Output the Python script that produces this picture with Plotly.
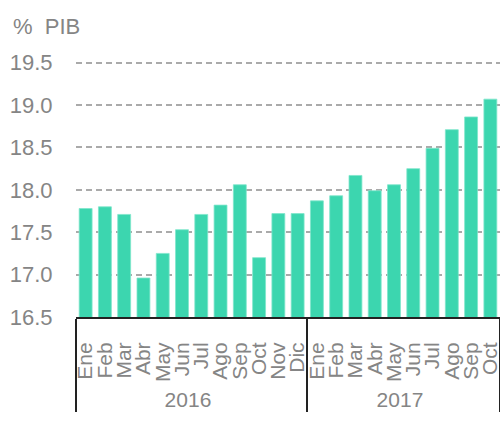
import plotly.graph_objects as go

years = ["2016"] * 12 + ["2017"] * 10
months = ["Ene", "Feb", "Mar", "Abr", "May", "Jun", "Jul", "Ago", "Sep", "Oct", "Nov", "Dic",
          "Ene", "Feb", "Mar", "Abr", "May", "Jun", "Jul", "Ago", "Sep", "Oct"]
values = [17.78, 17.80, 17.71, 16.96, 17.25, 17.53, 17.71, 17.82, 18.06, 17.20, 17.72, 17.72,
          17.87, 17.93, 18.17, 17.99, 18.06, 18.25, 18.49, 18.71, 18.86, 19.07]
y_ticks = [16.5, 17.0, 17.5, 18.0, 18.5, 19.0, 19.5]

gray = "#858585"
font_family = "Liberation Sans, Arial, sans-serif"

W, H = 500, 425

fig = go.Figure(go.Bar(
    x=[years, months],
    y=values,
    marker=dict(color="#3CD6AF", line=dict(color="#7FE6CB", width=0.8)),
))

fig.update_layout(
    width=W, height=H,
    margin=dict(l=76, r=0, t=61, b=108),
    plot_bgcolor="white", paper_bgcolor="white",
    bargap=0.33,
    showlegend=False,
    font=dict(family=font_family, color=gray),
    title=dict(text="%\u00a0\u00a0PIB", xref="container", yref="container",
               x=13 / W, xanchor="left", y=1 - 26 / H, yanchor="middle",
               font=dict(size=22, color=gray, family=font_family)),
)

fig.update_xaxes(
    type="multicategory",
    automargin=False,
    showline=True, linecolor="#222222", linewidth=2,
    showgrid=False,
    tickangle=-90,
    dtick=1,
    tickfont=dict(size=21, color=gray),
    ticks="",
    ticklabelstandoff=15,
    showdividers=True, dividercolor="#222222", dividerwidth=1.5,
)

fig.update_yaxes(
    automargin=False,
    range=[16.5, 19.52],
    tickvals=y_ticks,
    tickformat=".1f",
    tickfont=dict(size=22, color=gray),
    showgrid=True, gridcolor="#AAAAAA", griddash="6px,4px", gridwidth=1.5,
    zeroline=False, showline=False,
    ticks="outside", ticklen=18, tickcolor="rgba(0,0,0,0)",
)

fig.write_html(
    "out.html",
    config={"displayModeBar": False},
    post_script="document.body.style.margin='0';document.documentElement.style.overflow='hidden';",
)
